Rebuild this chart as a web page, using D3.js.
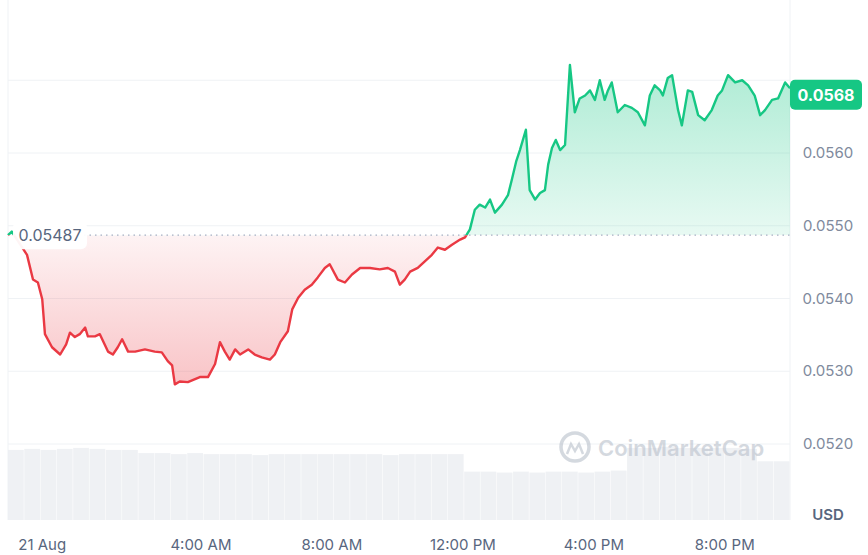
<!DOCTYPE html>
<html><head><meta charset="utf-8">
<script src="https://cdn.jsdelivr.net/npm/d3@7"></script>
<style>body{margin:0;background:#fff;font-family:Inter,"Noto Sans",sans-serif}</style>
</head><body><div id="chart"></div>
<script>
// minutes since start of window (start ~22:07 on 20 Aug)
const minutes = [0,7,35,46,55,63,68,81,96,107,114,123,132,142,147,160,169,184,193,202,210,221,234,252,270,283,294,302,307,316,331,353,368,381,390,399,408,418,427,442,454,467,482,491,501,515,523,534,546,559,570,583,592,607,620,633,648,666,684,699,712,721,730,740,754,767,780,791,804,817,832,841,850,859,868,878,887,896,909,920,927,935,942,953,960,970,979,988,994,1001,1008,1016,1025,1034,1043,1052,1062,1071,1080,1089,1098,1104,1111,1122,1135,1148,1159,1172,1181,1190,1200,1205,1214,1222,1233,1240,1251,1259,1270,1282,1295,1306,1314,1325,1338,1351,1362,1374,1384,1393,1406,1417,1430,1439];
const prices = [0.05487,0.05492,0.05460,0.05426,0.05422,0.05399,0.05351,0.05333,0.05323,0.05337,0.05353,0.05347,0.05351,0.05360,0.05348,0.05348,0.05351,0.05327,0.05323,0.05333,0.05344,0.05327,0.05327,0.05330,0.05327,0.05326,0.05314,0.05308,0.05282,0.05286,0.05285,0.05292,0.05292,0.05310,0.05340,0.05327,0.05316,0.05330,0.05323,0.05330,0.05323,0.05319,0.05316,0.05323,0.05340,0.05355,0.05385,0.05401,0.05412,0.05419,0.05429,0.05442,0.05447,0.05426,0.05422,0.05433,0.05442,0.05442,0.05440,0.05442,0.05437,0.05419,0.05426,0.05437,0.05442,0.05451,0.05460,0.05470,0.05467,0.05474,0.05481,0.05484,0.05495,0.05522,0.05529,0.05525,0.05536,0.05518,0.05529,0.05542,0.05563,0.05588,0.05604,0.05632,0.05549,0.05536,0.05545,0.05549,0.05584,0.05607,0.05618,0.05604,0.05611,0.05721,0.05656,0.05675,0.05679,0.05686,0.05673,0.05700,0.05673,0.05686,0.05697,0.05656,0.05666,0.05662,0.05656,0.05638,0.05679,0.05693,0.05686,0.05679,0.05703,0.05707,0.05659,0.05638,0.05686,0.05684,0.05652,0.05645,0.05659,0.05679,0.05686,0.05707,0.05697,0.05700,0.05693,0.05679,0.05652,0.05659,0.05673,0.05675,0.05697,0.05689];
const volumes = [68,69,68,69,70,69,68,68,65,65,64,65,64,64,64,63,64,64,64,64,64,64,64,63,64,64,64,64,47,47,46,47,46,47,47,46,47,48,70,70,71,70,70,70,70,69,57,57];
const basePrice = 0.05487, lastPrice = 0.0568;
const yTicks = [0.0520,0.0530,0.0540,0.0550,0.0560];
const xTickLabels = [["21 Aug",63],["4:00 AM",355],["8:00 AM",596],["12:00 PM",837],["4:00 PM",1078],["8:00 PM",1319]]; // label, minutes

const W = 868, H = 555, L = 8, R = 790, T = 8, B = 520;
const svg = d3.select("#chart").append("svg").attr("width", W).attr("height", H);
const x = d3.scaleLinear().domain([0, 1439]).range([L, R]);
const y = d3.scaleLinear().domain([0.0520, 0.0560]).range([444, 153]);
const yv = d3.scaleLinear().domain([0, 100]).range([B, B - 103]);

const defs = svg.append("defs");
function grad(id, c, a1, a2, y1, y2) {
  const g = defs.append("linearGradient").attr("id", id).attr("gradientUnits", "userSpaceOnUse")
    .attr("x1", 0).attr("x2", 0).attr("y1", y1).attr("y2", y2);
  g.append("stop").attr("offset", 0).attr("stop-color", c).attr("stop-opacity", a1);
  g.append("stop").attr("offset", 1).attr("stop-color", c).attr("stop-opacity", a2);
}
const yb = y(basePrice);
grad("gUp", "#16c784", 0.35, 0.1, y(0.0572), yb);
grad("gDn", "#ea3943", 0.06, 0.3, yb, y(0.0528));
defs.append("clipPath").attr("id", "cUp").append("rect").attr("x", 0).attr("y", 0).attr("width", W).attr("height", yb);
defs.append("clipPath").attr("id", "cDn").append("rect").attr("x", 0).attr("y", yb).attr("width", W).attr("height", H);

// grid
svg.selectAll(".grid").data([...yTicks, 0.0570]).enter().append("line")
  .attr("x1", L).attr("x2", R).attr("y1", d => y(d)).attr("y2", d => y(d))
  .attr("stroke", "#eff2f5");
svg.append("line").attr("x1", R).attr("x2", R).attr("y1", 0).attr("y2", B).attr("stroke", "#eff2f5");
svg.append("line").attr("x1", L).attr("x2", L).attr("y1", 0).attr("y2", B).attr("stroke", "#eff2f5");

// volume
const bw = (R - L) / volumes.length;
svg.selectAll(".vol").data(volumes).enter().append("rect")
  .attr("x", (d, i) => L + i * bw).attr("width", bw - 0.5)
  .attr("y", d => yv(d)).attr("height", d => B - yv(d)).attr("fill", "#eceef2").attr("opacity", 0.85);

// watermark
const wm = svg.append("g").attr("transform", "translate(558,432)").attr("opacity", 0.6);
wm.append("circle").attr("cx", 17).attr("cy", 15).attr("r", 14).attr("fill", "none").attr("stroke", "#b9c0cb").attr("stroke-width", 3.5);
wm.append("path").attr("d", "M9,22 L13,12 L17,19 L21,12 L25,22").attr("fill", "none").attr("stroke", "#b9c0cb").attr("stroke-width", 2.5);
wm.append("text").attr("x", 40).attr("y", 24).attr("font-size", 22).attr("font-weight", 600).attr("fill", "#b9c0cb").text("CoinMarketCap");

const data = minutes.map((m, i) => [m, prices[i]]);
const area = d3.area().x(d => x(d[0])).y0(yb).y1(d => y(d[1]));
const line = d3.line().x(d => x(d[0])).y(d => y(d[1]));
svg.append("path").datum(data).attr("d", area).attr("fill", "url(#gUp)").attr("clip-path", "url(#cUp)");
svg.append("path").datum(data).attr("d", area).attr("fill", "url(#gDn)").attr("clip-path", "url(#cDn)");
svg.append("path").datum(data).attr("d", line).attr("fill", "none").attr("stroke", "#16c784").attr("stroke-width", 2.4).attr("stroke-linejoin", "round").attr("clip-path", "url(#cUp)");
svg.append("path").datum(data).attr("d", line).attr("fill", "none").attr("stroke", "#ea3943").attr("stroke-width", 2.4).attr("stroke-linejoin", "round").attr("clip-path", "url(#cDn)");

// baseline
svg.append("line").attr("x1", 84).attr("x2", R).attr("y1", yb).attr("y2", yb)
  .attr("stroke", "#a6b0c3").attr("stroke-dasharray", "1.5,4").attr("stroke-width", 1.2);
svg.append("rect").attr("x", 13).attr("y", yb - 14).attr("width", 74).attr("height", 28).attr("rx", 6).attr("fill", "#fff").attr("opacity", 0.95);
svg.append("text").attr("x", 50).attr("y", yb + 6).attr("text-anchor", "middle").attr("font-size", 16).attr("fill", "#58667e").text(basePrice.toFixed(5));

// y axis labels
svg.selectAll(".yl").data(yTicks).enter().append("text")
  .attr("x", 828).attr("y", d => y(d) + 5).attr("text-anchor", "middle")
  .attr("font-size", 15).attr("fill", "#808a9d").text(d => d.toFixed(4));
svg.append("text").attr("x", 828).attr("y", 520).attr("text-anchor", "middle")
  .attr("font-size", 15).attr("font-weight", 600).attr("fill", "#58667e").text("USD");

// last price tag
const ly = y(lastPrice);
svg.append("rect").attr("x", 790).attr("y", ly - 15).attr("width", 72).attr("height", 30).attr("rx", 5).attr("fill", "#16c784");
svg.append("text").attr("x", 826).attr("y", ly + 6).attr("text-anchor", "middle")
  .attr("font-size", 16).attr("font-weight", 700).attr("fill", "#fff").text(lastPrice.toFixed(4));

// x axis labels
svg.selectAll(".xl").data(xTickLabels).enter().append("text")
  .attr("x", d => x(d[1])).attr("y", 550).attr("text-anchor", "middle")
  .attr("font-size", 15).attr("fill", "#58667e").text(d => d[0]);
</script></body></html>
